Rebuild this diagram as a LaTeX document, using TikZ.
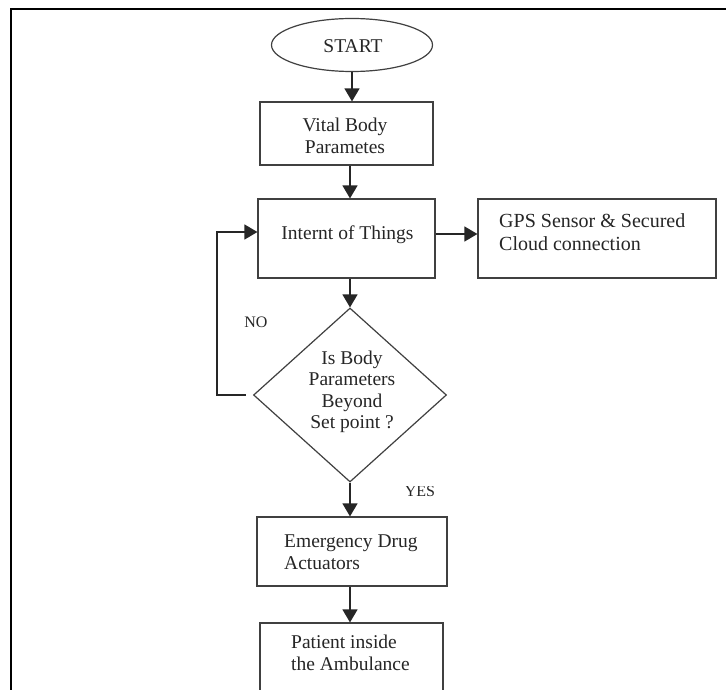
\documentclass[tikz,border=0pt]{standalone}
\usepackage{fontspec}
\setmainfont{Liberation Serif}
\usetikzlibrary{shapes.geometric,arrows.meta}
\begin{document}
\begin{tikzpicture}[x=1pt,y=-1pt,
  every node/.style={text=black!85, font=\fontsize{19.5}{21.5}\selectfont},
  shp/.style={draw=black!75, line width=1.2pt, inner sep=0pt},
  box/.style={shp, rectangle},
  lbl/.style={inner sep=0pt, align=center},
  small/.style={inner sep=0pt, font=\fontsize{16}{18}\selectfont},
  arr/.style={draw=black!85, line width=1.4pt, -{Triangle[length=13pt,width=15pt]}}]
\useasboundingbox (0,0) rectangle (726,690);
\fill[white] (0,0) rectangle (726,690);
\clip (0,0) rectangle (726,690);
% page frame
\draw[line width=2pt] (11,691) -- (11,9.5) -- (727,9.5);
% shapes
\node[shp, ellipse, minimum width=161pt, minimum height=53pt] (start) at (352,45) {};
\node[lbl] (tstart) at (353,46) {START};
\node[box, minimum width=173pt, minimum height=63pt] (vital) at (346.5,133.5) {};
\node[lbl] (tvital) at (345,136) {Vital Body\\Parametes};
\node[box, minimum width=177pt, minimum height=79pt] (iot) at (346.5,238.5) {};
\node[lbl] (tiot) at (347.5,235) {Internt of Things};
\node[box, minimum width=238pt, minimum height=79pt] (gps) at (597,238.5) {};
\node[lbl, align=left, anchor=west, font=\fontsize{20}{23}\selectfont] (tgps) at (499,232) {GPS Sensor \& Secured\\Cloud connection};
\node[shp, diamond, minimum width=193pt, minimum height=174pt] (dec) at (350,395) {};
\node[lbl] (tdec) at (352,392) {Is Body\\Parameters\\Beyond\\Set point ?};
\node[box, minimum width=190pt, minimum height=69pt] (emer) at (352,551.5) {};
\node[lbl, align=left, anchor=west] (temer) at (284,552) {Emergency Drug\\Actuators};
\node[box, minimum width=183pt, minimum height=97pt] (pat) at (351.5,671.5) {};
\node[lbl, align=left, anchor=west] (tpat) at (291,653) {Patient inside\\the Ambulance};
% labels
\node[small] (no) at (256,322) {NO};
\begin{scope}
  \clip (380,486) rectangle (470,520);
  \node[small] (yes) at (420,491) {YES};
\end{scope}
% connectors
\coordinate (fb) at (217,232);
\draw[arr] (start.south) -- (start.south |- vital.north);
\draw[arr] (vital.south -| 350,0) -- (iot.north -| 350,0);
\draw[arr] (iot.south -| 350,0) -- (dec.north);
\draw[arr] (iot.east |- 0,234) -- (gps.west |- 0,234);
\draw[arr] ([xshift=-7pt]dec.west) -| (fb) -- (iot.west |- fb);
\draw[arr] (dec.south) -- (emer.north -| dec.south);
\draw[arr] (emer.south -| dec.south) -- (pat.north -| dec.south);
\end{tikzpicture}
\end{document}
